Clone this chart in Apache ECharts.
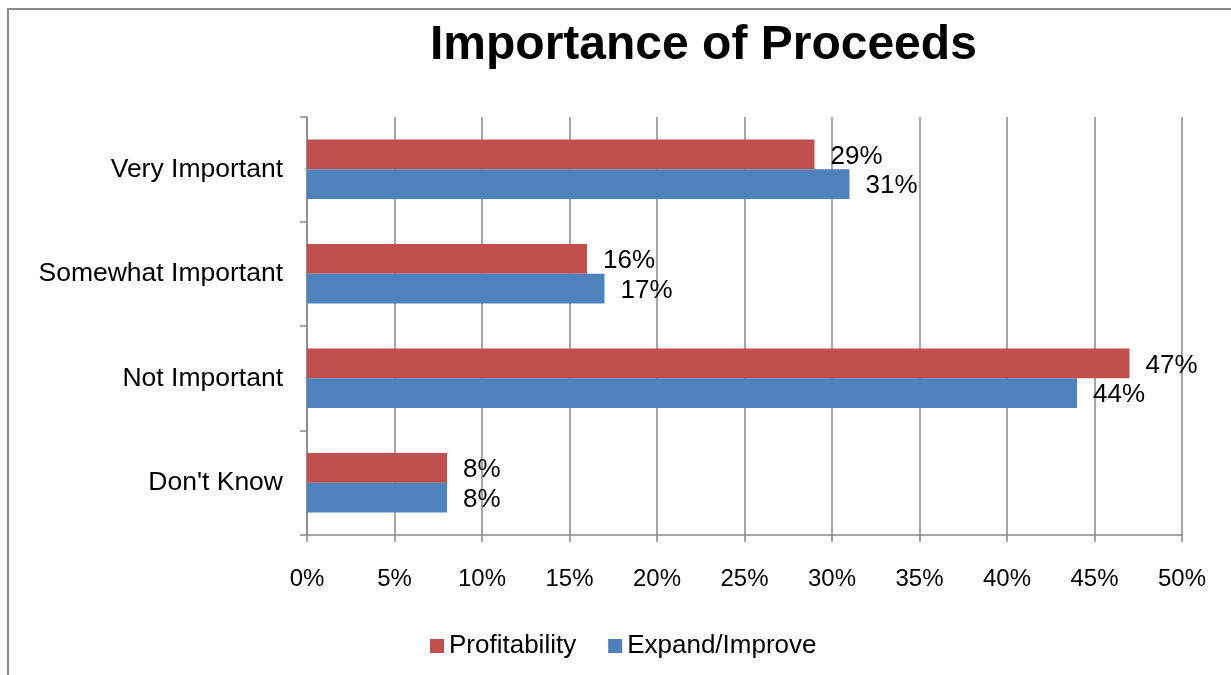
<!DOCTYPE html>
<html>
<head>
<meta charset="utf-8">
<script src="https://cdn.jsdelivr.net/npm/echarts@6/dist/echarts.min.js"></script>
<style>
html,body{margin:0;padding:0;background:#fff;}
#frame{position:absolute;left:7px;top:8px;width:1230px;height:680px;border-top:2px solid #8a8a8a;border-left:2px solid #8a8a8a;}
#chart{position:absolute;left:0;top:0;width:1231px;height:675px;}
</style>
</head>
<body>
<div id="frame"></div>
<div id="chart"></div>
<script>
const categories = ["Very Important", "Somewhat Important", "Not Important", "Don't Know"];
const profitability = [29, 16, 47, 8];
const expandImprove = [31, 17, 44, 8];
const seriesNames = ["Profitability", "Expand/Improve"];
const xTicks = { min: 0, max: 50, interval: 5 };

const chart = echarts.init(document.getElementById('chart'), null, {renderer: 'canvas'});
const font = "'Liberation Sans', Arial, sans-serif";
const gray = '#888888';
const labelStyle = {
  show: true, position: 'right', distance: 16, offset: [0, 2],
  formatter: p => p.value + '%', color: '#000', fontSize: 26, fontFamily: font
};
chart.setOption({
  backgroundColor: 'transparent',
  animation: false,
  title: {
    text: 'Importance of Proceeds',
    left: 425, top: 17,
    textStyle: { fontSize: 48, fontWeight: 'bold', color: '#000', fontFamily: font }
  },
  legend: {
    data: seriesNames,
    left: 425, top: 628,
    itemWidth: 14, itemHeight: 14, itemGap: 32,
    icon: 'rect',
    textStyle: { fontSize: 26, color: '#000', fontFamily: font }
  },
  grid: { left: 307, right: 49, top: 117, bottom: 140, containLabel: false },
  xAxis: {
    type: 'value', min: xTicks.min, max: xTicks.max, interval: xTicks.interval,
    axisLine: { show: true, lineStyle: { color: gray, width: 1.5 } },
    axisTick: { show: true, length: 7, lineStyle: { color: gray, width: 1.5 } },
    splitLine: { show: true, lineStyle: { color: gray, width: 1.5 } },
    axisLabel: { formatter: '{value}%', fontSize: 24, color: '#000', fontFamily: font, margin: 32 }
  },
  yAxis: {
    type: 'category', data: categories, inverse: true,
    axisLine: { show: true, lineStyle: { color: gray, width: 1.5 } },
    axisTick: { show: true, length: 7, lineStyle: { color: gray, width: 1.5 } },
    axisLabel: { fontSize: 26.5, color: '#000', fontFamily: font, margin: 24 }
  },
  series: [
    { name: seriesNames[0], type: 'bar', data: profitability, itemStyle: { color: '#C0504D' },
      barCategoryGap: '43%', barGap: '0%', label: labelStyle },
    { name: seriesNames[1], type: 'bar', data: expandImprove, itemStyle: { color: '#4F81BD' },
      barCategoryGap: '43%', barGap: '0%', label: labelStyle }
  ]
});
</script>
</body>
</html>
